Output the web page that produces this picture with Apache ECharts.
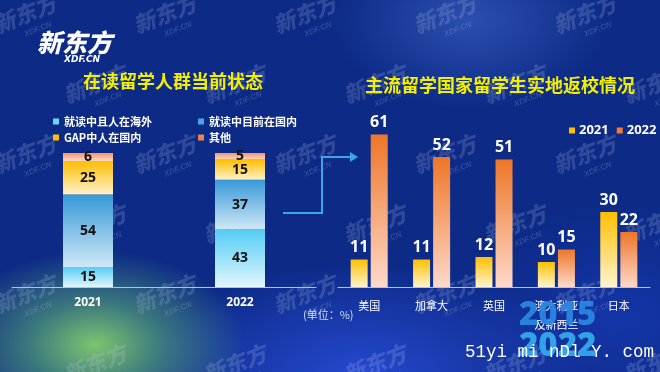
<!DOCTYPE html>
<html><head><meta charset="utf-8">
<script src="https://cdn.jsdelivr.net/npm/echarts@6/dist/echarts.min.js"></script>
<style>
html,body{margin:0;padding:0;}
#c{width:660px;height:372px;
background:
radial-gradient(ellipse 150px 95px at 95px 345px, rgba(130,205,110,0.95) 0%, rgba(90,170,120,0.6) 45%, rgba(40,90,160,0) 100%),
radial-gradient(ellipse 230px 110px at 360px 372px, rgba(40,75,215,0.9) 0%, rgba(30,60,190,0) 100%),
radial-gradient(ellipse 140px 90px at 470px 20px, rgba(70,110,210,0.55) 0%, rgba(20,50,150,0) 100%),
radial-gradient(ellipse 160px 120px at 620px 320px, rgba(25,60,190,0.6) 0%, rgba(20,50,150,0) 100%),
#0c2a86;}
</style></head>
<body><div id="c"></div>
<script>
const leftCats = ['2021', '2022'];
const overseas = [15, 43];
const domestic = [54, 37];
const gapYear = [25, 15];
const others = [6, 5];
const leftNames = ['就读中且人在海外', '就读中目前在国内', 'GAP中人在国内', '其他'];

const rightCats = ['美国', '加拿大', '英国', '澳大利亚\n及新西兰', '日本'];
const y2021 = [11, 11, 12, 10, 30];
const y2022 = [61, 52, 51, 15, 22];

const chart = echarts.init(document.getElementById('c'), null, {renderer: 'canvas'});
function vg(top, bottom) {
  return new echarts.graphic.LinearGradient(0, 0, 0, 1, [{offset: 0, color: top}, {offset: 1, color: bottom}]);
}
const cjk = '"Noto Sans CJK SC", "Noto Sans", sans-serif';

// watermarks (decoration)
const wm = [];
const rowsY = [40, 110, 180, 250, 320, 390];
const rot = 0.38;
rowsY.forEach((y, r) => {
  for (let x = (r % 2 ? 70 : 0) - 10; x < 680; x += 140) {
    wm.push({type: 'text', x: x, y: y - 24, rotation: rot, z: 0, silent: true,
      style: {text: '新东方', fill: 'rgba(190,205,235,0.2)', font: 'italic 900 22px ' + cjk}});
    wm.push({type: 'text', x: x + 24 + 9, y: y - 9, rotation: rot, z: 0, silent: true,
      style: {text: 'XDF.CN', fill: 'rgba(190,205,235,0.2)', font: 'italic bold 8px sans-serif'}});
  }
});

const labelBlack = {show: true, position: 'inside', color: '#111', fontWeight: 'bold', fontSize: 14, fontFamily: 'Noto Sans'};
const labelWhite = {show: true, position: 'top', color: '#fff', fontWeight: 'bold', fontSize: 16, fontFamily: 'Noto Sans', distance: 4};

function leg(name, left, top, color) {
  return {data: [{name: name, itemStyle: {color: color}}], left: left, top: top, icon: 'rect', itemWidth: 6, itemHeight: 6, itemGap: 4,
    textStyle: {color: '#fff', fontSize: 11, fontWeight: 'bold', fontFamily: cjk}, selectedMode: false};
}

chart.setOption({
  animation: false,
  backgroundColor: 'transparent',
  title: [
    {text: '在读留学人群当前状态', left: 168, top: 67, textAlign: 'center', textStyle: {color: '#f2ef00', fontSize: 18, fontWeight: 'bold', fontFamily: cjk}},
    {text: '主流留学国家留学生实地返校情况', left: 495, top: 71, textAlign: 'center', textStyle: {color: '#f2ef00', fontSize: 18, fontWeight: 'bold', fontFamily: cjk}}
  ],
  legend: [
    leg(leftNames[0], 48, 111, '#6fd4f5'),
    leg(leftNames[1], 193, 111, '#4aa6dc'),
    leg(leftNames[2], 48, 127, '#ffc000'),
    leg(leftNames[3], 193, 127, '#f08050'),
    {data: [{name: '2021', itemStyle: {color: '#ffc000'}}, {name: '2022', itemStyle: {color: '#f07a30'}}], left: 564, top: 119, orient: 'horizontal', width: 150,
      icon: 'rect', itemWidth: 6, itemHeight: 6, itemGap: 8,
      textStyle: {color: '#fff', fontSize: 13, fontWeight: 'bold', fontFamily: 'Noto Sans', padding: [0, 0, 0, -1]}, selectedMode: false}
  ],
  grid: [
    {left: 12, width: 304, top: 153, height: 134},
    {left: 338, width: 312, top: 112, height: 175}
  ],
  xAxis: [
    {type: 'category', gridIndex: 0, data: leftCats, axisTick: {show: false},
      axisLine: {lineStyle: {color: '#a9c4ee', width: 1}},
      axisLabel: {color: '#fff', fontSize: 12, fontWeight: 'bold', margin: 10, fontFamily: 'Noto Sans'}},
    {type: 'category', gridIndex: 1, data: rightCats, axisTick: {show: false},
      axisLine: {lineStyle: {color: '#a9c4ee', width: 1}},
      axisLabel: {color: '#fff', fontSize: 11, margin: 9, lineHeight: 19, fontFamily: cjk, verticalAlign: 'top'}}
  ],
  yAxis: [
    {type: 'value', gridIndex: 0, min: 0, max: 100, show: false},
    {type: 'value', gridIndex: 1, min: 0, max: 70, show: false}
  ],
  series: [
    {name: leftNames[0], type: 'bar', stack: 's', xAxisIndex: 0, yAxisIndex: 0, data: overseas, barWidth: 50, label: labelBlack, itemStyle: {color: vg('#52cdf5', '#e2f6fd')}},
    {name: leftNames[1], type: 'bar', stack: 's', xAxisIndex: 0, yAxisIndex: 0, data: domestic, barWidth: 50, label: labelBlack, itemStyle: {color: vg('#3799d8', '#cfe7f6')}},
    {name: leftNames[2], type: 'bar', stack: 's', xAxisIndex: 0, yAxisIndex: 0, data: gapYear, barWidth: 50, label: labelBlack, itemStyle: {color: vg('#ffbe00', '#fff2cc')}},
    {name: leftNames[3], type: 'bar', stack: 's', xAxisIndex: 0, yAxisIndex: 0, data: others, barWidth: 50, label: labelBlack, itemStyle: {color: vg('#f4946c', '#fcd9c4')}},
    {name: '2021', type: 'bar', xAxisIndex: 1, yAxisIndex: 1, data: y2021, barWidth: 17, barGap: '18%', label: labelWhite, itemStyle: {color: vg('#ffc000', '#fff4d0')}},
    {name: '2022', type: 'bar', xAxisIndex: 1, yAxisIndex: 1, data: y2022, barWidth: 17, barGap: '18%', label: labelWhite, itemStyle: {color: vg('#ee7628', '#fdd9c9')}}
  ],
  graphic: wm.concat([
    {type: 'text', left: 519, top: 299, z: 1, silent: true, style: {text: '2015', font: '900 33px "Open Sans", sans-serif', fill: '#2a86e0', opacity: 0.95}},
    {type: 'text', left: 519, top: 330, z: 1, silent: true, style: {text: '2022', font: '900 33px "Open Sans", sans-serif', fill: '#35a9ec', opacity: 0.95}},
    {type: 'text', left: 37, top: 30, z: 5, style: {text: '新东方', font: 'italic 900 25px ' + cjk, fill: '#fff'}},
    {type: 'text', left: 64, top: 55, z: 5, style: {text: 'XDF.CN', font: 'italic bold 9px "DejaVu Sans", sans-serif', fill: '#fff'}},
    {type: 'polyline', z: 5, shape: {points: [[283, 213], [322, 213], [322, 157], [351, 157]]}, style: {stroke: '#3aa6ee', lineWidth: 2, fill: null}},
    {type: 'polygon', z: 5, shape: {points: [[350, 152], [358, 157], [350, 162]]}, style: {fill: '#3aa6ee'}},
    {type: 'text', left: 303, top: 309, z: 5, style: {text: '(单位：%)', font: '11px ' + cjk, fill: '#d6defa'}},
    {type: 'text', left: 465, top: 343, z: 6, style: {text: '51yi mi nDl Y. com', font: '17.5px "Liberation Mono", monospace', fill: '#fff'}}
  ])
});
</script></body></html>
